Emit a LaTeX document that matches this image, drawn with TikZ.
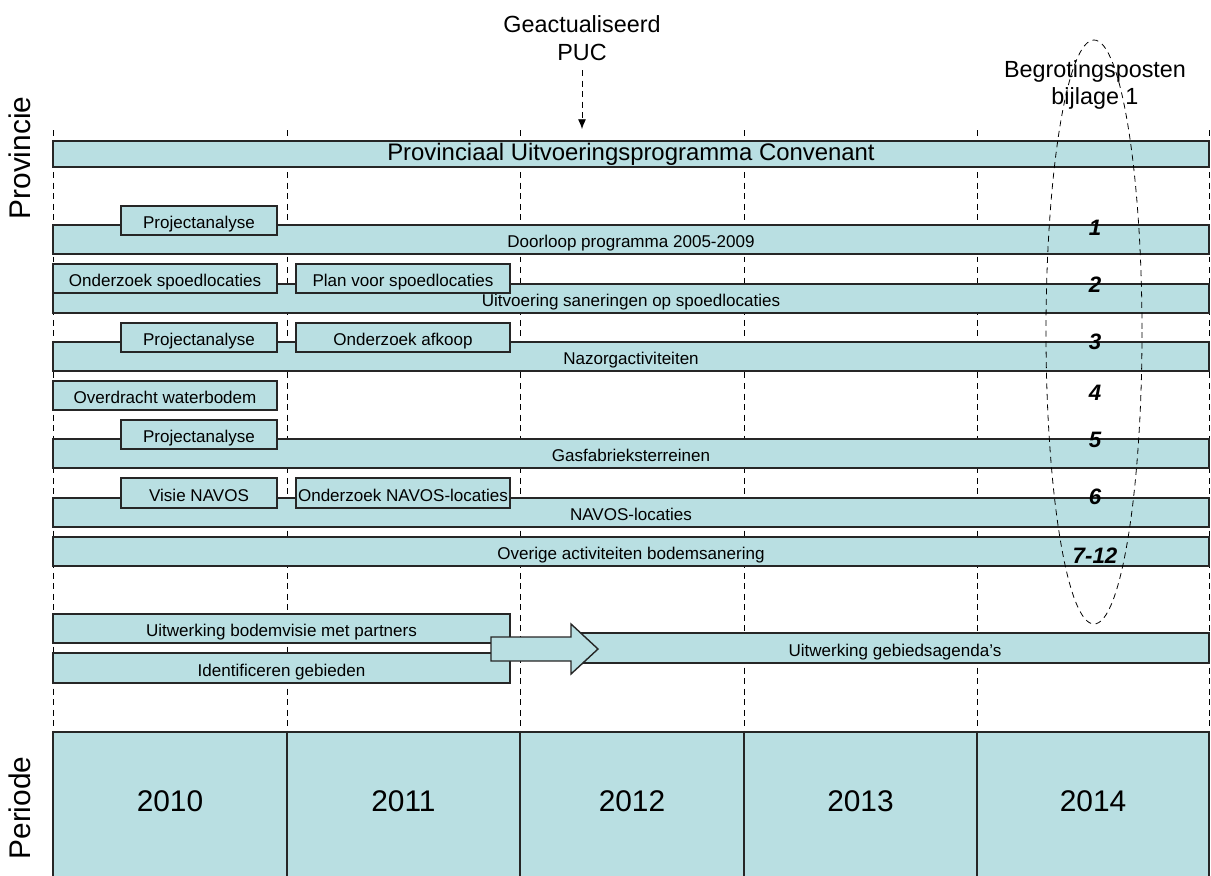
\documentclass[tikz,border=0pt]{standalone}
\usepackage{fontspec}
\setmainfont{Liberation Sans}
\usetikzlibrary{arrows.meta}
\definecolor{balkblauw}{RGB}{185,223,226}

\tikzset{
	bar/.style={draw=black!85, fill=balkblauw, line width=0.8pt, inner sep=0pt,
		text height=0.92em, text depth=0em, font=\fontsize{9.7}{11}\selectfont},
	vak/.style n args={4}{bar, anchor=center, at={({(#1+#3)/2},{(#2+#4)/2})},
		minimum width={(#3-#1)*0.02cm}, minimum height={(#4-#2)*0.02cm}},
	jaar/.style={text height=0.74em, text depth=0em, font=\fontsize{17}{20}\selectfont},
	raster/.style={dash pattern=on 3.4pt off 2.6pt, line width=0.45pt},
	post/.style={font=\fontsize{12.7}{14}\selectfont\bfseries\itshape},
	kop/.style={align=center, font=\fontsize{13.3}{15.6}\selectfont},
	as/.style={rotate=90, font=\fontsize{17}{20}\selectfont},
}

\begin{document}
\begin{tikzpicture}[x=0.02cm, y=-0.02cm]
		\useasboundingbox (0,0) rectangle (1211,876);

		\foreach \x in {53,287,520,744,977,1209}
			\draw[raster] (\x,130) -- (\x,732);

		\node[as] (provincie) at (20,158) {Provincie};
		\node[as] (periode) at (20,808) {Periode};

		\node[kop] (puc) at (582,38) {Geactualiseerd\\PUC};
		\coordinate (pucstart) at (582,70);
		\coordinate (pucend) at (582,129);
		\draw[raster, -{Latex[length=5.5pt, width=4.5pt]}] (pucstart) -- (pucend);

		\node[vak={53}{141}{1209}{167}, text height=0.72em, font=\fontsize{13.6}{16}\selectfont] (puc bar) {Provinciaal Uitvoeringsprogramma Convenant};

		\node[vak={53}{225}{1209}{254}] (doorloop) {Doorloop programma 2005-2009};
		\node[vak={121}{206}{277}{235}] (analyse1) {Projectanalyse};

		\node[vak={53}{284}{1209}{313}] (sanering) {Uitvoering saneringen op spoedlocaties};
		\node[vak={53}{264}{277}{293}] (onderzoek spoed) {Onderzoek spoedlocaties};
		\node[vak={296}{264}{510}{293}] (plan spoed) {Plan voor spoedlocaties};

		\node[vak={53}{342}{1209}{371}] (nazorg) {Nazorgactiviteiten};
		\node[vak={121}{323}{277}{352}] (analyse2) {Projectanalyse};
		\node[vak={296}{323}{510}{352}] (afkoop) {Onderzoek afkoop};

		\node[vak={53}{381}{277}{410}] (waterbodem) {Overdracht waterbodem};

		\node[vak={53}{439}{1209}{468}] (gasfabriek) {Gasfabrieksterreinen};
		\node[vak={121}{420}{277}{449}] (analyse3) {Projectanalyse};

		\node[vak={53}{498}{1209}{527}] (navos) {NAVOS-locaties};
		\node[vak={121}{478}{277}{508}] (visie navos) {Visie NAVOS};
		\node[vak={296}{478}{510}{508}] (onderzoek navos) {Onderzoek NAVOS-locaties};

		\node[vak={53}{537}{1209}{566}] (overig) {Overige activiteiten bodemsanering};

		\node[vak={53}{614}{510}{643}] (bodemvisie) {Uitwerking bodemvisie met partners};
		\node[vak={53}{653}{510}{683}] (gebieden) {Identificeren gebieden};
		\node[vak={581}{633}{1209}{663}] (agenda) {Uitwerking gebiedsagenda’s};
		\draw[bar] (491,637) -- (571,637) -- (571,624) -- (598,649) -- (571,674) -- (571,661) -- (491,661) -- cycle;

		\node[vak={53}{732}{287}{878}, jaar] (j2010) {2010};
		\node[vak={287}{732}{520}{878}, jaar] (j2011) {2011};
		\node[vak={520}{732}{744}{878}, jaar] (j2012) {2012};
		\node[vak={744}{732}{977}{878}, jaar] (j2013) {2013};
		\node[vak={977}{732}{1209}{878}, jaar] (j2014) {2014};

		\node[post] (post1) at (1095,228) {1};
		\node[post] (post2) at (1095,285) {2};
		\node[post] (post3) at (1095,342) {3};
		\node[post] (post4) at (1095,393) {4};
		\node[post] (post5) at (1095,440) {5};
		\node[post] (post6) at (1095,497) {6};
		\node[post] (post7) at (1095,556) {7-12};

		\node[kop] (begroting) at (1095,85) {Begrotingsposten\\bijlage 1};
		\draw[raster] (1094,332) ellipse [x radius=48, y radius=292];

	\end{tikzpicture}
\end{document}
